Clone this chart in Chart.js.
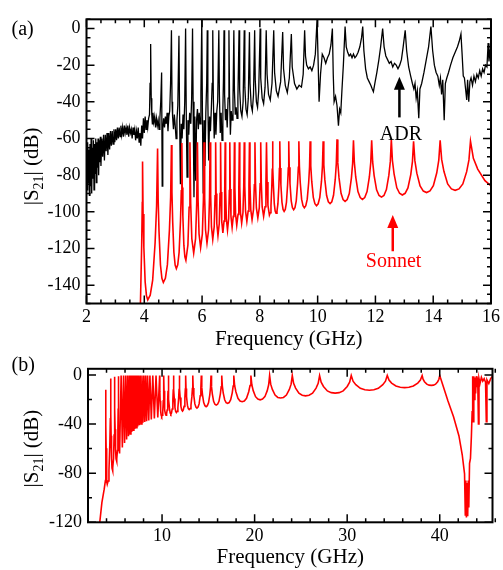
<!DOCTYPE html>
<html lang="en">
<head>
  <meta charset="UTF-8" />
  <title>S21 ADR vs Sonnet</title>
  <script src="https://cdn.jsdelivr.net/npm/chart.js"></script>
  <style>
    body { margin: 0; background: #fff; }
    .panel { position: absolute; left: 0; }
    #boxA { top: 0; }
    #boxB { top: 352px; }
  </style>
</head>
<body>
  <div class="panel" id="boxA"><canvas id="chartA" width="503" height="352"></canvas></div>
  <div class="panel" id="boxB"><canvas id="chartB" width="503" height="218"></canvas></div>

  <script>
    // ---- panel (a): measured ADR trace (frequency GHz, |S21| dB)
    const adrFreq = [
      2.00, 2.02, 2.04, 2.06, 2.08, 2.10, 2.12, 2.14, 2.16, 2.18, 2.20, 2.22, 2.24, 2.26, 2.28, 2.30,
      2.32, 2.34, 2.36, 2.38, 2.40, 2.42, 2.44, 2.46, 2.48, 2.50, 2.53, 2.56, 2.59, 2.62, 2.65, 2.68,
      2.71, 2.74, 2.77, 2.80, 2.83, 2.86, 2.89, 2.92, 2.95, 2.98, 3.01, 3.04, 3.07, 3.10, 3.13, 3.16,
      3.19, 3.22, 3.25, 3.28, 3.31, 3.34, 3.37, 3.40, 3.43, 3.46, 3.49, 3.52, 3.55, 3.58, 3.61, 3.64,
      3.67, 3.70, 3.73, 3.76, 3.79, 3.82, 3.85, 3.88, 3.91, 3.94, 3.97, 4.00, 4.03, 4.06, 4.09, 4.12,
      4.15, 4.18, 4.20, 4.22, 4.24, 4.26, 4.28, 4.30, 4.33, 4.36, 4.39, 4.42, 4.45, 4.48, 4.51, 4.54,
      4.57, 4.60, 4.62, 4.64, 4.67, 4.70, 4.73, 4.76, 4.79, 4.82, 4.85, 4.88, 4.91, 4.94, 4.96, 4.98,
      5.01, 5.04, 5.07, 5.10, 5.13, 5.16, 5.20, 5.22, 5.25, 5.28, 5.31, 5.34, 5.37, 5.40, 5.43, 5.45,
      5.48, 5.51, 5.54, 5.57, 5.61, 5.64, 5.67, 5.69, 5.72, 5.75, 5.78, 5.81, 5.84, 5.87, 5.90, 5.93,
      5.96, 5.99, 6.01, 6.04, 6.07, 6.10, 6.13, 6.16, 6.18, 6.20, 6.23, 6.26, 6.29, 6.32, 6.35, 6.37,
      6.39, 6.42, 6.45, 6.48, 6.51, 6.54, 6.58, 6.60, 6.63, 6.66, 6.69, 6.72, 6.74, 6.76, 6.78, 6.81,
      6.84, 6.87, 6.90, 6.93, 6.95, 6.98, 7.01, 7.04, 7.07, 7.10, 7.12, 7.15, 7.18, 7.21, 7.24, 7.28,
      7.30, 7.34, 7.38, 7.42, 7.46, 7.48, 7.52, 7.56, 7.60, 7.64, 7.66, 7.70, 7.74, 7.78, 7.82, 7.84,
      7.88, 7.92, 7.96, 8.01, 8.03, 8.08, 8.13, 8.18, 8.22, 8.25, 8.30, 8.36, 8.42, 8.48, 8.51, 8.57,
      8.63, 8.72, 8.79, 8.82, 8.88, 8.95, 9.02, 9.09, 9.12, 9.20, 9.28, 9.36, 9.44, 9.50, 9.55, 9.58,
      9.62, 9.68, 9.74, 9.80, 9.86, 9.92, 9.98, 10.02, 10.05, 10.10, 10.16, 10.22, 10.28, 10.34, 10.40, 10.46,
      10.51, 10.54, 10.57, 10.62, 10.67, 10.72, 10.76, 10.80, 10.84, 10.89, 10.95, 10.99, 11.04, 11.09, 11.14, 11.19,
      11.24, 11.29, 11.34, 11.40, 11.46, 11.52, 11.56, 11.60, 11.66, 11.72, 11.78, 11.84, 11.89, 11.93, 11.98, 12.05,
      12.12, 12.18, 12.25, 12.30, 12.36, 12.42, 12.48, 12.54, 12.60, 12.66, 12.72, 12.78, 12.84, 12.90, 12.96, 13.03,
      13.08, 13.15, 13.22, 13.28, 13.33, 13.37, 13.41, 13.45, 13.50, 13.54, 13.60, 13.68, 13.76, 13.84, 13.92, 13.98,
      14.04, 14.10, 14.16, 14.21, 14.25, 14.29, 14.33, 14.38, 14.42, 14.47, 14.53, 14.60, 14.68, 14.76, 14.84, 14.90,
      14.96, 15.00, 15.04, 15.08, 15.12, 15.16, 15.19, 15.23, 15.27, 15.31, 15.36, 15.41, 15.46, 15.51, 15.56, 15.61,
      15.66, 15.71, 15.76, 15.81, 15.86, 15.90, 15.93, 15.96, 16.00
    ];
    const adrDb = [
      -70, -88, -62, -84, -66, -91, -63, -86, -60, -90, -65, -82, -61, -88, -63, -79,
      -60, -84, -62, -76, -60, -80, -61, -73, -59, -75, -60, -70, -58, -72, -58, -67,
      -57, -69, -57, -66, -56, -64, -56, -63, -55, -62, -55, -61, -54, -60, -54, -59,
      -53, -58, -54, -59, -53, -57, -54, -58, -53, -59, -54, -57, -55, -60, -54, -58,
      -55, -61, -56, -60, -54, -62, -57, -64, -53, -60, -49, -57, -48, -55, -50, -54,
      -49, -47, -30, -8.5, -38, -47, -52, -46, -51, -48, -54, -49, -53, -50, -55, -49,
      -40, -24, -86, -55, -49, -54, -48, -52, -46, -56, -48, -45, -30, -1, -40, -48,
      -55, -47, -53, -60, -50, -42, -4, -44, -85, -52, -60, -47, -55, -40, 0, -42,
      -81, -50, -58, -46, -52, -38, 0, -40, -92, -48, -83, -50, -44, -55, -46, -52,
      -35, 5, -42, -90, -50, -75, -46, -30, -1, -40, -72, -48, -56, -44, -30, -1,
      -38, -60, -46, -58, -45, -40, -1, -36, -57, -46, -61, -44, -28, -1, -36, -50,
      -44, -54, -38, -1, -36, -58, -45, -50, -40, -1, -34, -47, -43, -49, -38, -1,
      -33, -45, -48, -40, -1, -32, -44, -47, -38, -2, -30, -42, -45, -36, -1, -28,
      -40, -43, -34, 0, -27, -38, -41, -32, -1, -25, -36, -39, -30, -1, -24, -34,
      -37, -29, -2, -22, -31, -35, -27, -3, -21, -30, -33, -31, -32, -25, -1, -15,
      -20, -22, -21, -23, -20, -14, 5, -20, -40, -25, -14, -16, -19, -16, -14, -9,
      0, -25, -40, -37, -42, -53, -44, -46, -34, -20, 1, -10, -13, -15, -14, -16,
      -14, -16, -15, -13, -10, -5, 1, -12, -22, -27, -29, -31, -33, -34.5, -30, -24,
      -17, -10, 0, -10, -15, -17, -19, -18, -21, -19, -20, -22, -20, -17, -10, -1,
      -12, -21, -26, -30, -33, -30, -38, -34, -49, -33, -30, -24, -17, -10, 1, -12,
      -20, -24, -26, -31, -27, -36, -28, -50, -30, -27, -24, -20, -16, -13, -10, -7,
      -3, -14, -26, -27, -33, -39, -28, -40, -29, -27, -31, -26, -29, -25, -27, -23,
      -26, -22, -24, -20, -21, -8, -18, -13, -10
    ];

    // ---- panel (a): Sonnet simulation, [GHz, dB]
    const sonnetA = [
      [3.86,-155],[3.91,-118],[3.93,-95],[3.94,-72.5],
      [3.958,-101.2],[3.985,-119.3],[4.03,-138.2],[4.075,-145.7],[4.12,-148],
      [4.205,-145.5],[4.29,-137.3],[4.375,-116.7],[4.426,-96.9],[4.46,-65.5],
      [4.48,-93.2],[4.51,-110.8],[4.56,-129],[4.61,-136.3],[4.66,-138.5],
      [4.73,-136.3],[4.80,-128.8],[4.87,-110],[4.912,-92],[4.94,-63.5],
      [4.957,-89.2],[4.983,-105.4],[5.025,-122.2],[5.068,-129],[5.11,-131],
      [5.158,-128.9],[5.205,-122.1],[5.253,-105],[5.281,-88.5],[5.30,-62.5],
      [5.314,-86.8],[5.335,-102.2],[5.37,-118.2],[5.405,-124.6],[5.44,-126.5],
      [5.51,-118.1],[5.552,-97.5],[5.58,-62],[5.606,-95.3],[5.645,-114.6],[5.71,-122.5],
      [5.775,-114.6],[5.814,-95.3],[5.84,-62],[5.862,-93.6],[5.895,-112],[5.95,-119.5],
      [6.01,-112],[6.046,-93.6],[6.07,-62],[6.09,-92.3],[6.12,-109.9],[6.17,-117],
      [6.225,-109.9],[6.258,-92.3],[6.28,-62],[6.298,-91.2],[6.325,-108.1],[6.37,-115],
      [6.42,-108.1],[6.45,-91.2],[6.47,-62],[6.486,-90],[6.51,-106.4],[6.55,-113],
      [6.595,-106.4],[6.622,-90],[6.64,-62],[6.656,-89.2],[6.68,-105.1],[6.72,-111.5],
      [6.76,-105.1],[6.784,-89.2],[6.80,-62],[6.816,-88.4],[6.84,-103.8],[6.88,-110],
      [6.92,-103.8],[6.944,-88.4],[6.96,-62],[6.976,-87.6],[7.00,-102.5],[7.04,-108.5],
      [7.08,-102.5],[7.104,-87.6],[7.12,-62],[7.136,-86.9],[7.16,-101.4],[7.20,-107.3],
      [7.245,-101.4],[7.272,-86.9],[7.29,-62],[7.306,-86.3],[7.33,-100.5],[7.37,-106.2],
      [7.415,-100.5],[7.442,-86.3],[7.46,-62],[7.478,-85.8],[7.505,-99.6],[7.55,-105.2],
      [7.595,-99.6],[7.622,-85.8],[7.64,-62],[7.658,-85.3],[7.685,-98.8],[7.73,-104.3],
      [7.78,-98.8],[7.81,-85.3],[7.83,-62],[7.85,-84.7],[7.88,-97.9],[7.93,-103.3],
      [7.98,-97.9],[8.01,-84.7],[8.03,-62],[8.05,-84.3],[8.08,-97.2],[8.13,-102.5],
      [8.18,-97.2],[8.21,-84.3],[8.23,-62],[8.25,-83.8],[8.28,-96.5],[8.33,-101.7],
      [8.358,-100.5],[8.385,-96.5],[8.413,-86.4],[8.429,-76.8],[8.44,-61.5],
      [8.452,-76.4],[8.47,-85.9],[8.50,-95.7],[8.53,-99.6],[8.56,-100.8],
      [8.593,-99.6],[8.625,-95.7],[8.658,-85.9],[8.677,-76.4],[8.69,-61.5],
      [8.705,-76.1],[8.728,-85.2],[8.765,-94.8],[8.803,-98.7],[8.84,-99.8],
      [8.88,-98.7],[8.92,-94.8],[8.96,-85.2],[8.984,-76.1],[9.00,-61.5],
      [9.017,-75.7],[9.043,-84.6],[9.085,-94],[9.128,-97.7],[9.17,-98.8],
      [9.215,-97.7],[9.26,-94],[9.305,-84.6],[9.332,-75.7],[9.35,-61.5],
      [9.369,-75.3],[9.398,-84],[9.445,-93.1],[9.493,-96.7],[9.54,-97.8],
      [9.59,-96.7],[9.64,-93.1],[9.69,-84],[9.72,-75.3],[9.74,-61.5],
      [9.762,-74.9],[9.795,-83.3],[9.85,-92.1],[9.905,-95.6],[9.96,-96.7],
      [10.018,-95.6],[10.075,-92.1],[10.133,-83.3],[10.167,-74.9],[10.19,-61.5],
      [10.214,-74.4],[10.25,-82.6],[10.31,-91.1],[10.37,-94.5],[10.43,-95.5],
      [10.49,-94.5],[10.55,-91],[10.61,-82.2],[10.646,-73.8],[10.67,-60.5],
      [10.698,-73.3],[10.74,-81.5],[10.81,-89.9],[10.88,-93.3],[10.95,-94.3],
      [11.023,-93.3],[11.095,-90],[11.168,-81.6],[11.211,-73.7],[11.24,-61],
      [11.271,-73.2],[11.318,-81],[11.395,-89],[11.473,-92.2],[11.55,-93.2],
      [11.63,-92.2],[11.71,-89],[11.79,-81],[11.838,-73.2],[11.87,-61],
      [11.904,-72.8],[11.955,-80.2],[12.04,-88],[12.125,-91.1],[12.21,-92],
      [12.295,-91.1],[12.38,-87.9],[12.465,-80],[12.516,-72.5],[12.55,-60.5],
      [12.588,-72],[12.645,-79.3],[12.74,-86.9],[12.835,-89.9],[12.93,-90.8],
      [13.028,-89.9],[13.125,-87],[13.223,-79.7],[13.281,-72.6],[13.32,-61.5],
      [13.365,-72.1],[13.433,-78.9],[13.545,-85.9],[13.658,-88.7],[13.77,-89.5],
      [13.888,-88.6],[14.005,-85.8],[14.123,-78.7],[14.193,-71.8],[14.24,-61],
      [14.292,-71.4],[14.37,-77.9],[14.50,-84.8],[14.63,-87.5],[14.76,-88.3],
      [14.893,-87.5],[15.025,-84.8],[15.158,-78.1],[15.237,-71.7],[15.29,-61.5],
      [15.39,-70.8],[15.54,-76.7],[15.79,-83],[16.0,-85.8]
    ];

    // ---- panel (b): Sonnet simulation, wide band, [GHz, dB]
    const sonnetB = [
      [3.20,-125],[3.50,-104],[3.75,-93],[3.88,-86],[3.91,-40],[3.92,-12],
      [3.936,-41.3],[3.96,-59.7],[4.00,-79],[4.04,-86.7],[4.08,-89],
      [4.173,-86.4],[4.265,-77.8],[4.358,-56.3],[4.413,-35.7],[4.45,-3],
      [4.469,-31.5],[4.498,-49.5],[4.545,-68.3],[4.593,-75.8],[4.64,-78],
      [4.70,-75.7],[4.76,-68.1],[4.82,-48.9],[4.856,-30.6],[4.88,-1.5],
      [4.90,-27.7],[4.93,-44.3],[4.98,-61.5],[5.03,-68.4],[5.08,-70.5],
      [5.13,-68.4],[5.18,-61.5],[5.23,-44.1],[5.26,-27.4],[5.28,-1],
      [5.295,-24.9],[5.318,-40.1],[5.355,-55.8],[5.393,-62.1],[5.43,-64],
      [5.58,-0.5],[5.71,-59],[5.84,-0.5],[5.95,-55.5],[6.07,-0.5],[6.17,-52.5],
      [6.28,-0.5],[6.37,-50],[6.47,-0.5],[6.55,-48],[6.64,-0.5],[6.72,-46.5],
      [6.80,-0.5],[6.88,-45],[6.96,-0.5],[7.04,-44],[7.12,-0.5],[7.20,-43],
      [7.29,-0.5],[7.37,-42],[7.46,-0.5],[7.55,-41],[7.64,-0.5],[7.73,-40],
      [7.83,-0.5],[7.93,-39],[8.03,-0.5],[8.13,-38.3],[8.23,-0.5],[8.33,-37.6],
      [8.44,-0.5],[8.56,-37],[8.69,-0.5],[8.84,-36.2],[9.00,-0.5],[9.17,-35.4],
      [9.35,-0.5],[9.54,-34.6],[9.74,-0.5],
      [9.762,-13.2],[9.795,-21.1],[9.85,-29.5],[9.905,-32.8],[9.96,-33.8],
      [10.018,-32.8],[10.075,-29.5],[10.133,-21.1],[10.167,-13.2],[10.19,-0.5],
      [10.214,-12.8],[10.25,-20.5],[10.31,-28.6],[10.37,-31.8],[10.43,-32.8],
      [10.49,-31.8],[10.55,-28.6],[10.61,-20.5],[10.646,-12.8],[10.67,-0.5],
      [10.698,-12.4],[10.74,-19.9],[10.81,-27.7],[10.88,-30.9],[10.95,-31.8],
      [11.023,-30.9],[11.095,-27.7],[11.168,-19.9],[11.211,-12.4],[11.24,-0.5],
      [11.271,-11.9],[11.318,-19.2],[11.395,-26.7],[11.473,-29.7],[11.55,-30.6],
      [11.63,-29.7],[11.71,-26.7],[11.79,-19.2],[11.838,-11.9],[11.87,-0.5],
      [11.904,-11.5],[11.955,-18.4],[12.04,-25.6],[12.125,-28.5],[12.21,-29.4],
      [12.295,-28.5],[12.38,-25.6],[12.465,-18.4],[12.516,-11.5],[12.55,-0.5],
      [12.588,-11],[12.645,-17.7],[12.74,-24.6],[12.835,-27.4],[12.93,-28.2],
      [13.028,-27.4],[13.125,-24.6],[13.223,-17.7],[13.281,-11],[13.32,-0.5],
      [13.365,-10.6],[13.433,-16.9],[13.545,-23.6],[13.658,-26.2],[13.77,-27],
      [13.888,-26.2],[14.005,-23.6],[14.123,-16.9],[14.193,-10.6],[14.24,-0.5],
      [14.292,-10.1],[14.37,-16.2],[14.50,-22.5],[14.63,-25],[14.76,-25.8],
      [14.893,-25],[15.025,-22.5],[15.158,-16.2],[15.237,-10.1],[15.29,-0.5],
      [15.346,-9.7],[15.43,-15.4],[15.57,-21.5],[15.71,-23.9],[15.85,-24.6],
      [16.0,-23.9],[16.15,-21.5],[16.30,-15.4],[16.39,-9.7],[16.45,-0.5],
      [16.513,-9.1],[16.608,-14.6],[16.765,-20.2],[16.923,-22.5],[17.08,-23.2],
      [17.248,-22.5],[17.415,-20.2],[17.583,-14.6],[17.683,-9.1],[17.75,-0.5],
      [17.84,-8.6],[17.975,-13.7],[18.2,-19],[18.425,-21.2],[18.65,-21.8],
      [18.888,-21.2],[19.125,-19],[19.363,-13.7],[19.505,-8.6],[19.6,-0.5],
      [19.7,-8],[19.85,-12.8],[20.1,-17.7],[20.35,-19.7],[20.6,-20.3],
      [20.855,-19.7],[21.11,-17.7],[21.365,-12.8],[21.518,-8],[21.62,-0.5],
      [21.738,-7.5],[21.915,-11.8],[22.21,-16.4],[22.505,-18.3],[22.8,-18.8],
      [23.118,-18.3],[23.435,-16.4],[23.753,-11.8],[23.943,-7.5],[24.07,-0.5],
      [24.213,-6.8],[24.428,-10.7],[24.785,-14.9],[25.143,-16.5],[25.5,-17],
      [25.88,-16.5],[26.26,-14.9],[26.64,-10.7],[26.868,-6.8],[27.02,-0.5],
      [27.188,-5.9],[27.44,-9.4],[27.86,-13],[28.28,-14.4],[28.7,-14.8],
      [29.135,-14.4],[29.57,-13],[30.005,-9.4],[30.266,-5.9],[30.44,-0.5],
      [30.636,-5.1],[30.93,-7.9],[31.42,-10.9],[31.91,-12.1],[32.4,-12.5],
      [32.883,-12.1],[33.365,-10.9],[33.848,-7.9],[34.137,-5.1],[34.33,-0.5],
      [34.517,-4.2],[34.798,-6.6],[35.265,-9],[35.733,-10],[36.2,-10.3],
      [36.675,-10],[37.15,-9],[37.625,-6.6],[37.91,-4.2],[38.1,-0.5],
      [38.2,-3.5],[38.35,-5.5],[38.6,-7.5],[38.85,-8.3],[39.1,-8.5],
      [39.325,-8.3],[39.55,-7.5],[39.775,-5.5],[39.91,-3.5],[40.0,-0.5],
      [40.34,-8.3],[40.88,-21],[41.49,-34],[42.07,-49.5],[42.43,-65],[42.68,-80.5],
      [42.76,-114],[42.82,-86],[42.88,-116],[42.95,-88],[43.02,-115],[43.08,-86],
      [43.14,-108],[43.22,-72],[43.32,-68],[43.42,-50],[43.50,-30],[43.56,-1],
      [43.62,-38],[43.68,-1],[43.74,-20],[43.80,-2],[43.88,-15],[43.95,-1],
      [44.02,-10],[44.10,-2],[44.18,-40],[44.24,-3],[44.35,-7],[44.5,-2],
      [44.65,-5],[44.8,-3],[44.95,-6],[45.03,-38],[45.1,-4],[45.3,-7],
      [45.5,-3],[45.7,-1]
    ];

    // ---- axis ticks
    const aTicksX = [2, 4, 6, 8, 10, 12, 14, 16];
    const aTicksY = [-140, -120, -100, -80, -60, -40, -20, 0];
    const bTicksX = [10, 20, 30, 40];
    const bTicksY = [-120, -80, -40, 0];

    const serif = "'Liberation Serif', 'Times New Roman', serif";
    Chart.defaults.font.family = serif;
    Chart.defaults.color = '#000';

    // frame, inward ticks, y title with subscript, notes
    const deco = {
      id: 'deco',
      afterDraw(chart, args, o) {
        const { ctx, chartArea: a, scales: { x, y } } = chart;
        ctx.save();
        ctx.strokeStyle = '#000';
        ctx.lineWidth = 1.5;
        const isMajor = (v, m) => Math.abs(v / m - Math.round(v / m)) < 1e-6;
        const nx = Math.round((x.max - x.min) / o.xMinor);
        for (let i = 0; i <= nx; i++) {
          const v = x.min + i * o.xMinor;
          const px = x.getPixelForValue(v);
          const len = isMajor(v, o.xMajor) ? 8 : 4;
          ctx.beginPath();
          ctx.moveTo(px, a.bottom); ctx.lineTo(px, a.bottom - len);
          ctx.moveTo(px, a.top); ctx.lineTo(px, a.top + len);
          ctx.stroke();
        }
        const ny = Math.round((y.max - o.yStart) / o.yMinor);
        for (let i = 0; i <= ny; i++) {
          const v = o.yStart + i * o.yMinor;
          const py = y.getPixelForValue(v);
          const len = isMajor(v, o.yMajor) ? 8 : 4;
          ctx.beginPath();
          ctx.moveTo(a.left, py); ctx.lineTo(a.left + len, py);
          ctx.moveTo(a.right, py); ctx.lineTo(a.right - len, py);
          ctx.stroke();
        }
        ctx.lineWidth = 2;
        ctx.strokeRect(a.left, a.top, a.right - a.left, a.bottom - a.top);

        // y axis title |S21| (dB)
        const big = '21px ' + serif, small = '14px ' + serif;
        const parts = [['|S', big, 0], ['21', small, 5], ['| (dB)', big, 0]];
        let total = 0;
        parts.forEach(p => { ctx.font = p[1]; total += ctx.measureText(p[0]).width; });
        ctx.translate(o.titleX, (a.top + a.bottom) / 2 + o.titleDy);
        ctx.rotate(-Math.PI / 2);
        ctx.fillStyle = '#000';
        ctx.textBaseline = 'alphabetic';
        let cx = -total / 2;
        parts.forEach(p => {
          ctx.font = p[1];
          ctx.fillText(p[0], cx, p[2]);
          cx += ctx.measureText(p[0]).width;
        });
        ctx.setTransform(1, 0, 0, 1, 0, 0);

        // panel letter
        ctx.font = '20px ' + serif;
        ctx.textAlign = 'left';
        ctx.fillText(o.letter[0], o.letter[1], o.letter[2]);

        // arrows with labels
        (o.notes || []).forEach(n => {
          const ax = x.getPixelForValue(n.f);
          const tip = y.getPixelForValue(n.tip);
          const tail = y.getPixelForValue(n.tail);
          ctx.strokeStyle = n.color;
          ctx.fillStyle = n.color;
          ctx.lineWidth = 2.5;
          ctx.beginPath();
          ctx.moveTo(ax, tail); ctx.lineTo(ax, tip + 10);
          ctx.stroke();
          ctx.beginPath();
          ctx.moveTo(ax, tip); ctx.lineTo(ax - 5.5, tip + 13); ctx.lineTo(ax + 5.5, tip + 13);
          ctx.closePath(); ctx.fill();
          ctx.font = '20px ' + serif;
          ctx.textAlign = 'center';
          ctx.fillText(n.text, x.getPixelForValue(n.tf), y.getPixelForValue(n.tdb));
        });
        ctx.restore();
      }
    };

    function axisX(min, max, ticks, height) {
      return {
        type: 'linear', min: min, max: max,
        afterBuildTicks: s => { s.ticks = ticks.map(v => ({ value: v })); },
        afterFit: s => { s.height = height; },
        grid: { display: false, drawTicks: false },
        border: { display: false },
        ticks: { font: { size: 18 }, color: '#000', padding: 3, maxRotation: 0 },
        title: { display: true, text: 'Frequency (GHz)', font: { size: 21 }, color: '#000', padding: 0 }
      };
    }
    function axisY(min, max, ticks, width) {
      return {
        type: 'linear', min: min, max: max,
        afterBuildTicks: s => { s.ticks = ticks.map(v => ({ value: v })); },
        afterFit: s => { s.width = width; },
        grid: { display: false, drawTicks: false },
        border: { display: false },
        ticks: { font: { size: 18 }, color: '#000', padding: 6 }
      };
    }
    const pts = (fs, ds) => fs.map((f, i) => ({ x: f, y: ds[i] }));
    const pairs = arr => arr.map(p => ({ x: p[0], y: p[1] }));

    new Chart(document.getElementById('chartA'), {
      type: 'scatter',
      data: {
        datasets: [
          { data: pairs(sonnetA), showLine: true, borderColor: '#ff0000', borderWidth: 1.6, pointRadius: 0 },
          { data: pts(adrFreq, adrDb), showLine: true, borderColor: '#000000', borderWidth: 1.3, pointRadius: 0 }
        ]
      },
      options: {
        responsive: false, animation: false,
        layout: { padding: { left: 0, right: 10.5, top: 19.3, bottom: 0 } },
        scales: { x: axisX(2, 16, aTicksX, 48.5), y: axisY(-150, 5, aTicksY, 86.5) },
        plugins: {
          legend: { display: false }, tooltip: { enabled: false },
          deco: {
            xMinor: 0.5, xMajor: 2, yStart: -150, yMinor: 5, yMajor: 20,
            titleX: 38, titleDy: 5, letter: ['(a)', 11.5, 35],
            notes: [
              { f: 12.83, tip: -26.4, tail: -48.5, color: '#000', text: 'ADR', tf: 12.88, tdb: -60.6 },
              { f: 12.6, tip: -101.7, tail: -121.5, color: '#ff0000', text: 'Sonnet', tf: 12.63, tdb: -130.1 }
            ]
          }
        }
      },
      plugins: [deco]
    });

    new Chart(document.getElementById('chartB'), {
      type: 'scatter',
      data: {
        datasets: [
          { data: pairs(sonnetB), showLine: true, borderColor: '#ff0000', borderWidth: 1.6, pointRadius: 0 }
        ]
      },
      options: {
        responsive: false, animation: false,
        layout: { padding: { left: 0, right: 10.5, top: 9, bottom: 0 } },
        scales: { x: axisX(2, 45.7, bTicksX, 47.7), y: axisY(-120, 5, bTicksY, 88) },
        plugins: {
          legend: { display: false }, tooltip: { enabled: false },
          deco: {
            xMinor: 2, xMajor: 10, yStart: -120, yMinor: 20, yMajor: 40,
            titleX: 38, titleDy: 3, letter: ['(b)', 11.5, 19]
          }
        }
      },
      plugins: [deco]
    });
  </script>
</body>
</html>
